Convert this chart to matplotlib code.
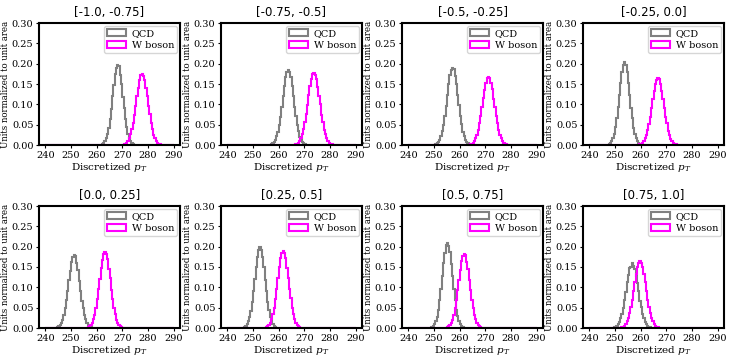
import numpy as np
import matplotlib
matplotlib.use("Agg")
import matplotlib.pyplot as plt

plt.rcParams["font.family"] = "DejaVu Serif"
plt.rcParams["mathtext.fontset"] = "dejavuserif"

# bins of discretized pT (width 0.5 over 240-290)
EDGES = np.arange(240, 290.5, 0.5)
TITLES = ["[-1.0, -0.75]", "[-0.75, -0.5]", "[-0.5, -0.25]", "[-0.25, 0.0]",
          "[0.0, 0.25]", "[0.25, 0.5]", "[0.5, 0.75]", "[0.75, 1.0]"]

# first non-empty bin edge for each panel
QCD_START = [261.5, 256.5, 250.0, 247.0, 244.0, 246.0, 248.5, 249.0]
W_START = [270.0, 266.0, 263.5, 259.0, 256.0, 254.5, 254.5, 252.0]

qcd_1 = [0.001,0.002,0.004,0.009,0.016,0.028,0.043,0.065,0.089,0.121,0.148,0.175,0.189,0.197,0.194,0.172,0.150,0.118,0.092,0.063,0.044,0.027,0.017,0.009,0.005,0.003,0.001]
w_1 = [0.001,0.002,0.003,0.006,0.010,0.016,0.026,0.039,0.055,0.075,0.097,0.120,0.141,0.159,0.171,0.175,0.170,0.160,0.140,0.121,0.096,0.076,0.054,0.040,0.025,0.017,0.010,0.006,0.003,0.002,0.001]
qcd_2 = [0.001,0.002,0.004,0.007,0.012,0.021,0.033,0.049,0.070,0.094,0.120,0.145,0.166,0.180,0.185,0.179,0.167,0.144,0.121,0.093,0.071,0.048,0.034,0.020,0.012,0.007,0.004,0.002,0.001]
w_2 = [0.001,0.002,0.003,0.006,0.010,0.017,0.026,0.039,0.056,0.076,0.099,0.122,0.144,0.162,0.174,0.178,0.173,0.163,0.143,0.121,0.100,0.075,0.057,0.038,0.027,0.016,0.010,0.006,0.003,0.002,0.001]
qcd_3 = [0.001,0.002,0.004,0.007,0.013,0.021,0.034,0.050,0.072,0.097,0.123,0.149,0.171,0.185,0.190,0.186,0.170,0.150,0.122,0.098,0.071,0.051,0.033,0.022,0.013,0.007,0.004,0.002,0.001]
w_3 = [0.001,0.002,0.003,0.006,0.010,0.016,0.025,0.037,0.053,0.072,0.093,0.115,0.136,0.153,0.164,0.168,0.165,0.152,0.137,0.114,0.094,0.071,0.054,0.036,0.025,0.016,0.010,0.005,0.003,0.002,0.001]
qcd_4 = [0.001,0.002,0.005,0.009,0.016,0.027,0.044,0.066,0.093,0.123,0.153,0.179,0.197,0.203,0.196,0.180,0.152,0.124,0.092,0.067,0.043,0.028,0.016,0.009,0.005,0.002,0.001]
w_4 = [0.001,0.002,0.003,0.005,0.009,0.016,0.024,0.036,0.052,0.070,0.091,0.113,0.133,0.150,0.161,0.165,0.162,0.149,0.134,0.112,0.092,0.069,0.053,0.035,0.025,0.015,0.009,0.005,0.003,0.002,0.001]
qcd_5 = [0.001,0.002,0.004,0.007,0.012,0.020,0.032,0.048,0.068,0.091,0.117,0.141,0.162,0.175,0.180,0.176,0.161,0.142,0.116,0.092,0.067,0.049,0.031,0.021,0.012,0.007,0.004,0.002,0.001]
w_5 = [0.001,0.002,0.004,0.007,0.013,0.021,0.033,0.050,0.071,0.095,0.121,0.147,0.168,0.182,0.187,0.181,0.169,0.146,0.122,0.094,0.072,0.049,0.034,0.020,0.013,0.007,0.004,0.002,0.001]
qcd_6 = [0.001,0.002,0.005,0.009,0.016,0.027,0.043,0.064,0.091,0.120,0.149,0.175,0.192,0.198,0.193,0.174,0.150,0.119,0.092,0.063,0.044,0.026,0.016,0.009,0.005,0.002,0.001]
w_6 = [0.001,0.002,0.004,0.007,0.013,0.021,0.034,0.050,0.072,0.097,0.123,0.149,0.171,0.185,0.190,0.184,0.172,0.148,0.124,0.096,0.073,0.049,0.035,0.021,0.013,0.007,0.004,0.002,0.001]
qcd_7 = [0.001,0.002,0.005,0.009,0.017,0.028,0.045,0.068,0.096,0.127,0.159,0.185,0.203,0.210,0.202,0.186,0.158,0.128,0.095,0.069,0.044,0.029,0.017,0.009,0.005,0.002,0.001]
w_7 = [0.001,0.002,0.004,0.007,0.012,0.020,0.032,0.048,0.069,0.093,0.119,0.143,0.164,0.178,0.183,0.179,0.163,0.144,0.118,0.094,0.068,0.049,0.031,0.021,0.012,0.007,0.004,0.002,0.001]
qcd_8 = [0.001,0.002,0.003,0.005,0.009,0.015,0.024,0.035,0.050,0.068,0.089,0.112,0.131,0.148,0.149,0.160,0.152,0.145,0.129,0.110,0.090,0.067,0.051,0.035,0.024,0.015,0.009,0.005,0.003,0.002,0.001]
w_8 = [0.001,0.002,0.003,0.005,0.009,0.016,0.024,0.036,0.052,0.070,0.091,0.113,0.133,0.150,0.161,0.165,0.161,0.150,0.132,0.113,0.091,0.070,0.052,0.036,0.024,0.016,0.009,0.005,0.003,0.002,0.001]

QCD = [qcd_1, qcd_2, qcd_3, qcd_4, qcd_5, qcd_6, qcd_7, qcd_8]
WB = [w_1, w_2, w_3, w_4, w_5, w_6, w_7, w_8]


def full_hist(start, vals):
    h = np.zeros(len(EDGES) - 1)
    i0 = int(round((start - EDGES[0]) / 0.5))
    h[i0:i0 + len(vals)] = vals
    return h


fig = plt.figure(figsize=(7.31, 3.58), dpi=100)
W, H = 731, 358
lefts = [39, 221, 402, 583]
tops = [23, 206]
for k in range(8):
    r, c = divmod(k, 4)
    ax = fig.add_axes([lefts[c] / W, 1 - (tops[r] + 122) / H, 141 / W, 122 / H])
    centers = EDGES[:-1]
    ax.hist(centers, bins=EDGES, weights=full_hist(QCD_START[k], QCD[k]), histtype="step",
            color="grey", lw=1.5, label="QCD")
    ax.hist(centers, bins=EDGES, weights=full_hist(W_START[k], WB[k]), histtype="step",
            color="magenta", lw=1.5, label="W boson")
    ax.set_xlim(237.5, 292.5); ax.set_ylim(0, 0.3)
    ax.set_xticks(range(240, 291, 10)); ax.set_yticks(np.arange(0, 0.31, 0.05))
    ax.yaxis.set_major_formatter(matplotlib.ticker.FormatStrFormatter("%.2f"))
    ax.tick_params(labelsize=7, length=2.5, width=0.8, pad=1.5)
    for s in ax.spines.values():
        s.set_linewidth(1.5)
    ax.set_title(TITLES[k], fontsize=8.5, family="DejaVu Sans", pad=5)
    ax.set_xlabel("Discretized $p_T$", fontsize=7.5, labelpad=1)
    ax.set_ylabel("Units normalized to unit area", fontsize=6.2, labelpad=1)
    ax.legend(loc="upper right", fontsize=7, handlelength=2.0, borderpad=0.3,
              labelspacing=0.3, handletextpad=0.6, borderaxespad=0.3)

fig.savefig("out.png", dpi=100)
